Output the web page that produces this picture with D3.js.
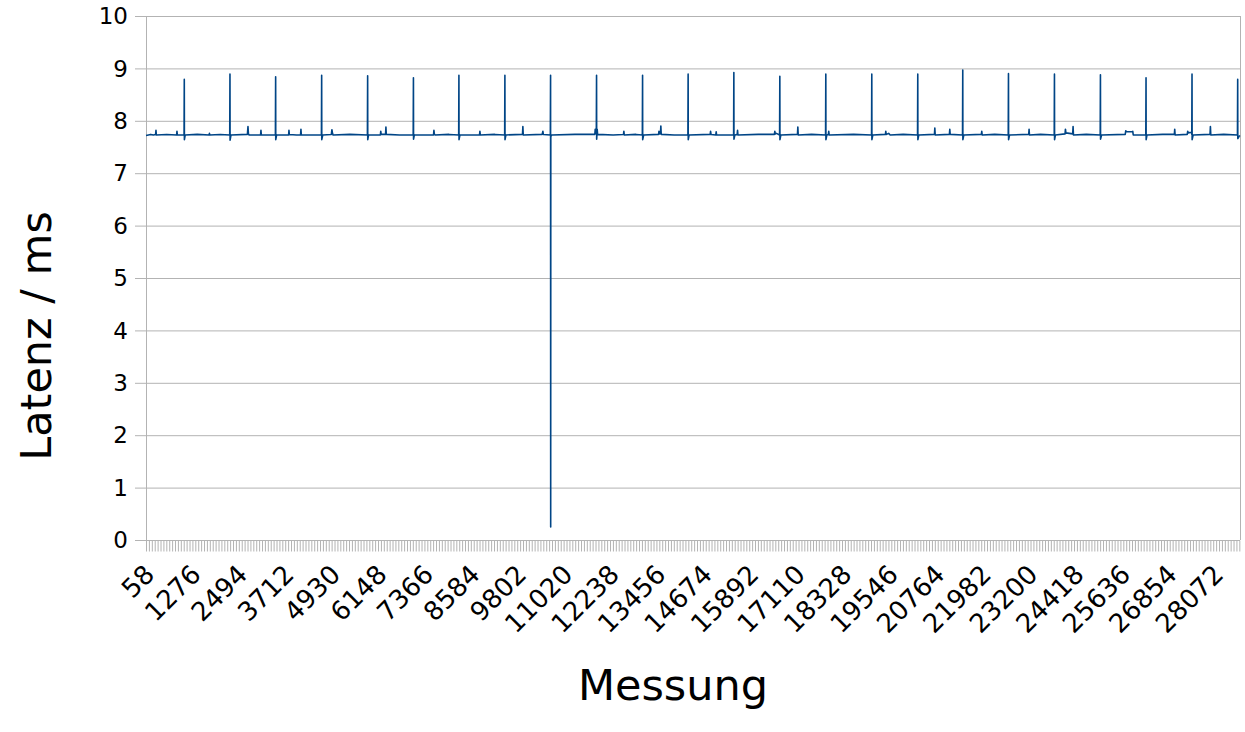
<!DOCTYPE html>
<html>
<head>
  <script type="text/javascript" src="https://d3js.org/d3.v7.min.js"></script>
</head>
<body>
<style type="text/css">
  html, body, svg {
    overflow: hidden;
    margin: 0px;
    width: 100%;
    height: 100%;
    background: #ffffff;
  }
  text { font-family: "DejaVu Sans", sans-serif; fill: #000000; }
  .grid line { stroke: #b3b3b3; stroke-width: 1; }
  .data-line { fill: none; stroke: #004586; stroke-width: 1.6; stroke-linejoin: round; }
</style>

<script>
"use strict";

// Messung range (first and last category on the axis)
const ERSTE_MESSUNG = 58;
const LETZTE_MESSUNG = 28727;

// Category labels shown on the x axis
const X_LABELS = [58, 1276, 2494, 3712, 4930, 6148, 7366, 8584, 9802, 11020, 12238, 13456,
  14674, 15892, 17110, 18328, 19546, 20764, 21982, 23200, 24418, 25636, 26854, 28072];

// Y axis ticks
const Y_TICKS = [0, 1, 2, 3, 4, 5, 6, 7, 8, 9, 10];

// Latency series: [Messung, Latenz in ms]
const LATENZ = [
  [58, 7.72], [180, 7.74], [250, 7.73], [309, 7.74], [319, 7.82], [329, 7.73], [600, 7.74],
  [860, 7.73], [869, 7.80], [878, 7.73],
  [1055, 7.73], [1061, 8.79], [1064, 7.64], [1085, 7.73], [1400, 7.74], [1710, 7.73], [1720, 7.76],
  [1730, 7.73], [2000, 7.74],
  [2252, 7.73], [2258, 8.89], [2261, 7.63], [2285, 7.73], [2715, 7.74], [2730, 7.89], [2742, 7.75],
  [2760, 7.73], [3060, 7.73], [3070, 7.82], [3080, 7.73],
  [3449, 7.73], [3455, 8.84], [3458, 7.64], [3480, 7.73], [3795, 7.73], [3804, 7.82], [3813, 7.74],
  [4000, 7.73], [4108, 7.73], [4118, 7.84], [4128, 7.73],
  [4655, 7.73], [4661, 8.87], [4664, 7.64], [4690, 7.73], [4915, 7.74], [4930, 7.83], [4945, 7.76],
  [4960, 7.73], [5400, 7.74],
  [5860, 7.73], [5866, 8.86], [5869, 7.64], [5890, 7.73], [6200, 7.73], [6210, 7.80], [6220, 7.74],
  [6335, 7.74], [6345, 7.88], [6355, 7.74], [6700, 7.73],
  [7060, 7.73], [7066, 8.82], [7069, 7.65], [7090, 7.73], [7593, 7.73], [7603, 7.82], [7613, 7.75],
  [7630, 7.73], [8000, 7.74],
  [8252, 7.73], [8258, 8.87], [8261, 7.64], [8285, 7.73], [8798, 7.73], [8808, 7.80], [8818, 7.73],
  [9200, 7.74],
  [9457, 7.73], [9463, 8.87], [9466, 7.64], [9490, 7.73], [9924, 7.74], [9934, 7.89], [9944, 7.73],
  [10440, 7.74], [10459, 7.80], [10470, 7.74],
  [10654, 7.73], [10660, 8.87], [10663, 0.25], [10666, 7.70], [10690, 7.73], [11300, 7.74],
  [11820, 7.74], [11830, 7.84], [11845, 7.76], [11859, 7.77],
  [11865, 8.87], [11868, 7.65], [11875, 7.74], [11882, 7.84], [11892, 7.74], [12300, 7.73],
  [12571, 7.74], [12581, 7.80], [12591, 7.73], [12900, 7.74],
  [13065, 7.73], [13071, 8.87], [13074, 7.64], [13100, 7.73], [13490, 7.74], [13500, 7.80],
  [13510, 7.75], [13540, 7.76], [13550, 7.90], [13560, 7.74], [13900, 7.73],
  [14259, 7.73], [14265, 8.89], [14268, 7.64], [14290, 7.73], [14843, 7.74], [14853, 7.80],
  [14865, 7.74], [14990, 7.73], [15000, 7.79], [15010, 7.73],
  [15457, 7.73], [15463, 8.92], [15466, 7.65], [15490, 7.73], [15550, 7.74], [15560, 7.82],
  [15570, 7.73], [16100, 7.74], [16525, 7.74], [16537, 7.80], [16550, 7.75], [16580, 7.76],
  [16662, 7.73], [16668, 8.85], [16671, 7.64], [16695, 7.73], [17130, 7.74], [17140, 7.88],
  [17150, 7.73], [17500, 7.74],
  [17867, 7.73], [17873, 8.89], [17876, 7.64], [17900, 7.73], [17940, 7.74], [17950, 7.80],
  [17960, 7.73], [18600, 7.74],
  [19072, 7.73], [19078, 8.89], [19081, 7.64], [19105, 7.73], [19435, 7.74], [19445, 7.80],
  [19455, 7.74], [19520, 7.76], [19560, 7.73], [19900, 7.74],
  [20277, 7.73], [20283, 8.89], [20286, 7.64], [20310, 7.73], [20720, 7.74], [20730, 7.86],
  [20740, 7.73], [21112, 7.74], [21122, 7.84], [21132, 7.74],
  [21456, 7.73], [21462, 8.97], [21465, 7.64], [21490, 7.73], [21950, 7.74], [21960, 7.80],
  [21970, 7.73], [22300, 7.74],
  [22654, 7.73], [22660, 8.90], [22663, 7.64], [22690, 7.73], [23190, 7.74], [23200, 7.84],
  [23210, 7.73], [23500, 7.74],
  [23859, 7.73], [23865, 8.89], [23868, 7.64], [23890, 7.73], [24143, 7.75], [24153, 7.84],
  [24165, 7.77], [24343, 7.75], [24353, 7.89], [24363, 7.73], [24700, 7.74],
  [25064, 7.73], [25070, 8.88], [25073, 7.65], [25100, 7.73], [25720, 7.74], [25733, 7.81],
  [25760, 7.79], [25900, 7.79], [25917, 7.80], [25930, 7.73],
  [26259, 7.73], [26265, 8.82], [26268, 7.64], [26290, 7.73], [26700, 7.74], [27007, 7.74],
  [27017, 7.84], [27027, 7.73], [27345, 7.74], [27357, 7.80], [27370, 7.77], [27455, 7.78],
  [27464, 7.74], [27470, 8.89], [27473, 7.64], [27500, 7.73], [27942, 7.74], [27952, 7.89],
  [27962, 7.73], [28300, 7.74],
  [28661, 7.73], [28667, 8.79], [28670, 7.66], [28700, 7.70], [28727, 7.72]
];

const WIDTH = 1245;
const HEIGHT = 732;
const PLOT_LEFT = 146;
const PLOT_RIGHT = 1240;
const PLOT_TOP = 16;
const PLOT_BOTTOM = 540;

const SVG = d3.select("body").append("svg")
  .attr("width", WIDTH)
  .attr("height", HEIGHT);

const X_SCALE = d3.scaleLinear()
  .domain([ERSTE_MESSUNG - 0.5, LETZTE_MESSUNG + 0.5])
  .range([PLOT_LEFT, PLOT_RIGHT]);

const Y_SCALE = d3.scaleLinear()
  .domain([0, 10])
  .range([PLOT_BOTTOM, PLOT_TOP]);

// Horizontal grid lines plus the short tick stubs left of the axis
SVG.append("g").classed("grid", true)
  .selectAll("line")
  .data(Y_TICKS)
  .enter()
  .append("line")
  .attr("x1", PLOT_LEFT - 11)
  .attr("x2", PLOT_RIGHT)
  .attr("y1", d => Y_SCALE(d) + 0.5)
  .attr("y2", d => Y_SCALE(d) + 0.5);

// Frame: left axis and right border
SVG.append("line")
  .attr("x1", PLOT_LEFT + 0.5).attr("x2", PLOT_LEFT + 0.5)
  .attr("y1", PLOT_TOP).attr("y2", PLOT_BOTTOM + 11)
  .attr("stroke", "#b3b3b3");
SVG.append("line")
  .attr("x1", PLOT_RIGHT + 0.5).attr("x2", PLOT_RIGHT + 0.5)
  .attr("y1", PLOT_TOP).attr("y2", PLOT_BOTTOM)
  .attr("stroke", "#b3b3b3");

// Dense category ticks below the x axis
const X_AXIS = d3.axisBottom(X_SCALE)
  .tickValues(d3.range(ERSTE_MESSUNG, LETZTE_MESSUNG, 76))
  .tickSize(11)
  .tickFormat("");

const G_X = SVG.append("g")
  .attr("transform", "translate(0," + (PLOT_BOTTOM + 0.5) + ")")
  .call(X_AXIS);
G_X.select(".domain").attr("stroke", "#b3b3b3").attr("d", "M" + PLOT_LEFT + ",0H" + PLOT_RIGHT);
G_X.selectAll(".tick line").attr("stroke", "#b3b3b3");

// Y tick labels
SVG.append("g")
  .selectAll("text")
  .data(Y_TICKS)
  .enter()
  .append("text")
  .attr("x", 128)
  .attr("y", d => Y_SCALE(d))
  .attr("dy", "0.36em")
  .attr("text-anchor", "end")
  .style("font-size", "23px")
  .text(d => d);

// X tick labels, rotated 45 degrees
SVG.append("g")
  .selectAll("text")
  .data(X_LABELS)
  .enter()
  .append("text")
  .attr("transform", d => "translate(" + (X_SCALE(d) + 10) + "," + 576 + ") rotate(-45)")
  .attr("text-anchor", "end")
  .style("font-size", "26px")
  .text(d => d);

// Latency line
const LINE = d3.line()
  .x(d => X_SCALE(d[0]))
  .y(d => Y_SCALE(d[1]));

SVG.append("path")
  .datum(LATENZ)
  .classed("data-line", true)
  .attr("d", LINE);

// Axis titles
SVG.append("text")
  .attr("transform", "translate(51,336) rotate(-90)")
  .attr("text-anchor", "middle")
  .style("font-size", "43px")
  .text("Latenz / ms");

SVG.append("text")
  .attr("x", 673)
  .attr("y", 700)
  .attr("text-anchor", "middle")
  .style("font-size", "43px")
  .text("Messung");
</script>
</body>
</html>
